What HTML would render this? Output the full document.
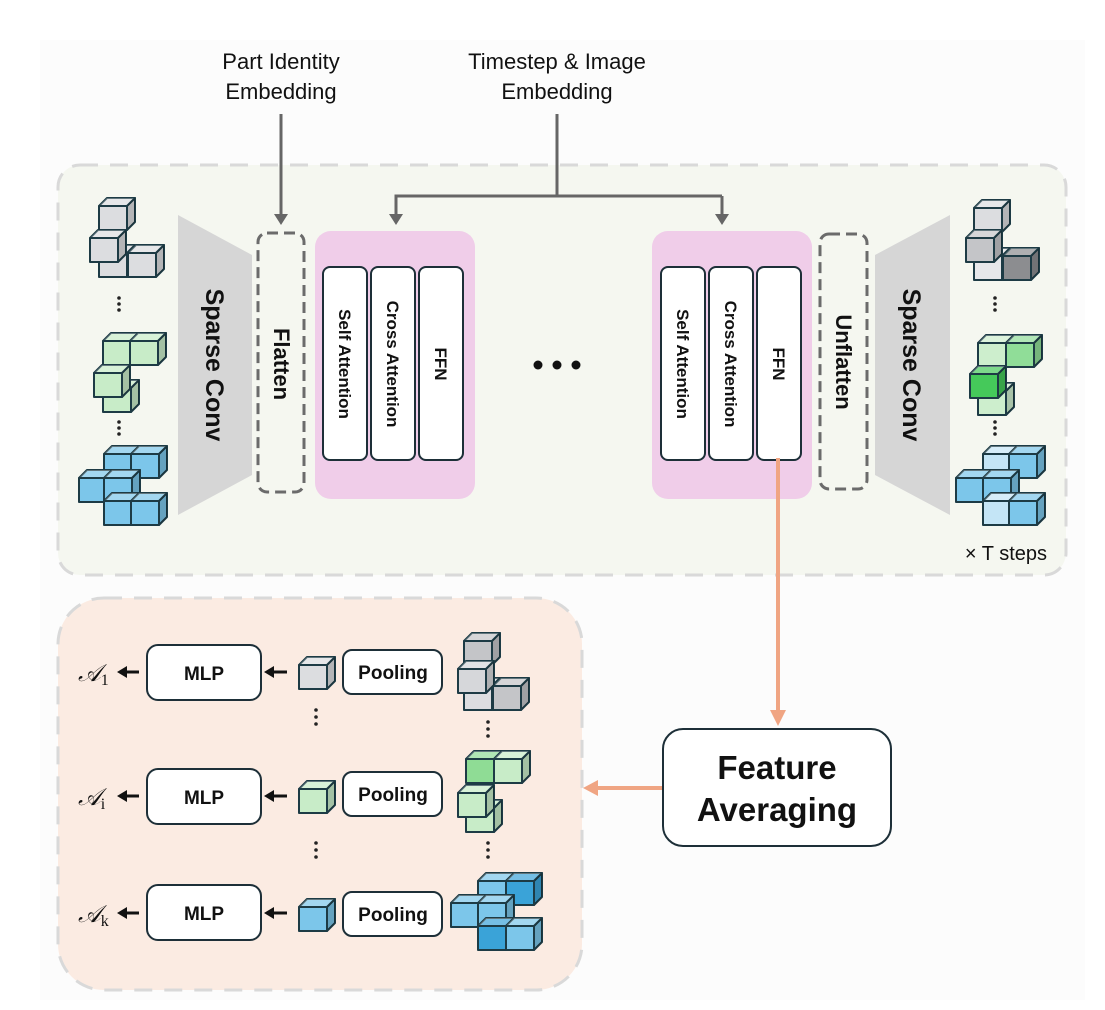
<!DOCTYPE html>
<html><head><meta charset="utf-8"><style>
html,body{margin:0;padding:0;background:#fff;}
svg{display:block;font-family:"Liberation Sans",Arial,sans-serif;}
</style></head><body>
<svg width="1105" height="1010" viewBox="0 0 1105 1010" xmlns="http://www.w3.org/2000/svg">
<defs>
<symbol id="c" viewBox="-1 -1 38 34" width="38" height="34" overflow="visible">
<g stroke="#1d3b45" stroke-width="2" stroke-linejoin="round">
<polygon points="0,8 8,0 36,0 28,8" fill="currentColor"/>
<polygon points="0,8 8,0 36,0 28,8" fill="#fff" fill-opacity="0.3" stroke="none"/>
<polygon points="28,8 36,0 36,24 28,32" fill="currentColor"/>
<polygon points="28,8 36,0 36,24 28,32" fill="#000" fill-opacity="0.18" stroke="none"/>
<rect x="0" y="8" width="28" height="24" fill="currentColor"/>
</g>
</symbol>
</defs>
<rect x="40" y="40" width="1045" height="960" fill="#fcfcfc"/>
<rect x="58" y="165" width="1008" height="410" rx="22" fill="#f5f7f0" stroke="#d9d9d9" stroke-width="3" stroke-dasharray="18,12"/>
<rect x="58" y="598" width="524" height="392" rx="46" fill="#fbebe2" stroke="#d9d9d9" stroke-width="3" stroke-dasharray="18,12"/>

<g font-size="22" fill="#111" text-anchor="middle">
<text x="281" y="69">Part Identity</text><text x="281" y="99">Embedding</text>
<text x="557" y="69">Timestep &amp; Image</text><text x="557" y="99">Embedding</text>
</g>
<g stroke="#666" stroke-width="3" fill="none">
<line x1="281" y1="114" x2="281" y2="216"/>
<polyline points="557,114 557,196 396,196 396,216"/>
<line x1="557" y1="196" x2="722" y2="196"/>
<line x1="722" y1="196" x2="722" y2="216"/>
</g>
<g fill="#666">
<polygon points="274,214 288,214 281,225"/>
<polygon points="389,214 403,214 396,225"/>
<polygon points="715,214 729,214 722,225"/>
</g>

<polygon points="178,215 252,255 252,475 178,515" fill="#d6d6d6"/>
<text transform="translate(206,365) rotate(90)" font-size="25" font-weight="bold" text-anchor="middle" fill="#111">Sparse Conv</text>
<rect x="258" y="233" width="46" height="259" rx="9" fill="none" stroke="#6b6b6b" stroke-width="3" stroke-dasharray="11,6"/>
<text transform="translate(274,364) rotate(90)" font-size="22" font-weight="bold" text-anchor="middle" fill="#111">Flatten</text>

<rect x="315" y="231" width="160" height="268" rx="16" fill="#f0cde9"/>
<rect x="652" y="231" width="160" height="268" rx="16" fill="#f0cde9"/>
<g fill="#fff" stroke="#1d2f38" stroke-width="2">
<rect x="323" y="267" width="44" height="193" rx="7"/>
<rect x="371" y="267" width="44" height="193" rx="7"/>
<rect x="419" y="267" width="44" height="193" rx="7"/>
<rect x="661" y="267" width="44" height="193" rx="7"/>
<rect x="709" y="267" width="44" height="193" rx="7"/>
<rect x="757" y="267" width="44" height="193" rx="7"/>
</g>
<g font-size="17" font-weight="bold" text-anchor="middle" fill="#111">
<text transform="translate(339,364) rotate(90)">Self Attention</text>
<text transform="translate(387,364) rotate(90)">Cross Attention</text>
<text transform="translate(435,364) rotate(90)">FFN</text>
<text transform="translate(677,364) rotate(90)">Self Attention</text>
<text transform="translate(725,364) rotate(90)">Cross Attention</text>
<text transform="translate(773,364) rotate(90)">FFN</text>
</g>
<g fill="#111"><circle cx="538" cy="365" r="4.5"/><circle cx="557" cy="365" r="4.5"/><circle cx="576" cy="365" r="4.5"/></g>

<rect x="820" y="234" width="47" height="255" rx="9" fill="none" stroke="#6b6b6b" stroke-width="3" stroke-dasharray="11,6"/>
<text transform="translate(836,362) rotate(90)" font-size="22" font-weight="bold" text-anchor="middle" fill="#111">Unflatten</text>
<polygon points="875,255 950,215 950,515 875,475" fill="#d6d6d6"/>
<text transform="translate(903,365) rotate(90)" font-size="25" font-weight="bold" text-anchor="middle" fill="#111">Sparse Conv</text>
<text x="1047" y="560" font-size="20" text-anchor="end" fill="#111">× T steps</text>

<g color="#dcdde0">
<use href="#c" x="98" y="197"/><use href="#c" x="98" y="244"/><use href="#c" x="127" y="244"/><use href="#c" x="89" y="229"/>
</g>
<g fill="#222"><circle cx="119" cy="298" r="1.8"/><circle cx="119" cy="304" r="1.8"/><circle cx="119" cy="310" r="1.8"/></g>
<g color="#c8ecc8">
<use href="#c" x="102" y="332"/><use href="#c" x="129" y="332"/><use href="#c" x="102" y="379"/><use href="#c" x="93" y="364"/>
</g>
<g fill="#222"><circle cx="119" cy="422" r="1.8"/><circle cx="119" cy="428" r="1.8"/><circle cx="119" cy="434" r="1.8"/></g>
<g color="#7cc6ea">
<use href="#c" x="103" y="445"/><use href="#c" x="130" y="445"/><use href="#c" x="78" y="469"/><use href="#c" x="103" y="469"/><use href="#c" x="103" y="492"/><use href="#c" x="130" y="492"/>
</g>

<use href="#c" x="973" y="199" color="#dcdde0"/>
<use href="#c" x="973" y="247" color="#e6e7ea"/>
<use href="#c" x="1002" y="247" color="#8c8d90"/>
<use href="#c" x="965" y="229" color="#c4c5c8"/>
<g fill="#222"><circle cx="995" cy="298" r="1.8"/><circle cx="995" cy="304" r="1.8"/><circle cx="995" cy="310" r="1.8"/></g>
<use href="#c" x="977" y="334" color="#cdeecd"/>
<use href="#c" x="1005" y="334" color="#90dd98"/>
<use href="#c" x="977" y="382" color="#cdeecd"/>
<use href="#c" x="969" y="365" color="#45c95a"/>
<g fill="#222"><circle cx="995" cy="422" r="1.8"/><circle cx="995" cy="428" r="1.8"/><circle cx="995" cy="434" r="1.8"/></g>
<use href="#c" x="982" y="445" color="#c4e5f6"/>
<use href="#c" x="1008" y="445" color="#7cc6ea"/>
<use href="#c" x="955" y="469" color="#7cc6ea"/>
<use href="#c" x="982" y="469" color="#7cc6ea"/>
<use href="#c" x="982" y="492" color="#c4e5f6"/>
<use href="#c" x="1008" y="492" color="#7cc6ea"/>

<line x1="778" y1="458" x2="778" y2="712" stroke="#f0a583" stroke-width="4"/>
<polygon points="770,710 786,710 778,726" fill="#f0a583"/>
<line x1="663" y1="788" x2="596" y2="788" stroke="#f0a583" stroke-width="4"/>
<polygon points="598,780 598,796 583,788" fill="#f0a583"/>
<rect x="663" y="729" width="228" height="117" rx="20" fill="#fff" stroke="#1d2f38" stroke-width="2"/>
<g font-size="33" font-weight="bold" text-anchor="middle" fill="#111">
<text x="777" y="779">Feature</text><text x="777" y="821">Averaging</text>
</g>

<g fill="#fff" stroke="#1d2f38" stroke-width="2">
<rect x="147" y="645" width="114" height="55" rx="11"/>
<rect x="147" y="769" width="114" height="55" rx="11"/>
<rect x="147" y="885" width="114" height="55" rx="11"/>
<rect x="343" y="650" width="99" height="44" rx="9"/>
<rect x="343" y="772" width="99" height="44" rx="9"/>
<rect x="343" y="892" width="99" height="44" rx="9"/>
</g>
<g font-size="19" font-weight="bold" text-anchor="middle" fill="#111">
<text x="204" y="680">MLP</text><text x="204" y="804">MLP</text><text x="204" y="920">MLP</text>
<text x="393" y="679">Pooling</text><text x="393" y="801">Pooling</text><text x="393" y="921">Pooling</text>
</g>
<g stroke="#111" stroke-width="3">
<line x1="287" y1="672" x2="272" y2="672"/><line x1="287" y1="796" x2="272" y2="796"/><line x1="287" y1="913" x2="272" y2="913"/>
<line x1="139" y1="672" x2="124" y2="672"/><line x1="139" y1="796" x2="124" y2="796"/><line x1="139" y1="913" x2="124" y2="913"/>
</g>
<g fill="#111">
<polygon points="264,672 274,666 274,678"/><polygon points="264,796 274,790 274,802"/><polygon points="264,913 274,907 274,919"/>
<polygon points="117,672 127,666 127,678"/><polygon points="117,796 127,790 127,802"/><polygon points="117,913 127,907 127,919"/>
</g>
<g font-family="'Liberation Serif',serif" font-style="italic" font-size="24" fill="#111">
<text x="78" y="681">𝒜<tspan font-style="normal" font-size="16" dy="4">1</tspan></text>
<text x="78" y="805">𝒜<tspan font-style="normal" font-size="16" dy="4">i</tspan></text>
<text x="78" y="922">𝒜<tspan font-style="normal" font-size="16" dy="4">k</tspan></text>
</g>
<use href="#c" x="298" y="656" color="#dcdde0"/>
<use href="#c" x="298" y="780" color="#c8ecc8"/>
<use href="#c" x="298" y="898" color="#7cc6ea"/>
<g fill="#222">
<circle cx="316" cy="710" r="1.8"/><circle cx="316" cy="717" r="1.8"/><circle cx="316" cy="724" r="1.8"/>
<circle cx="316" cy="843" r="1.8"/><circle cx="316" cy="850" r="1.8"/><circle cx="316" cy="857" r="1.8"/>
<circle cx="488" cy="722" r="1.8"/><circle cx="488" cy="729" r="1.8"/><circle cx="488" cy="736" r="1.8"/>
<circle cx="488" cy="843" r="1.8"/><circle cx="488" cy="850" r="1.8"/><circle cx="488" cy="857" r="1.8"/>
</g>
<use href="#c" x="463" y="632" color="#c4c5c8"/>
<use href="#c" x="463" y="677" color="#dcdde0"/>
<use href="#c" x="492" y="677" color="#c4c5c8"/>
<use href="#c" x="457" y="660" color="#d6d7da"/>
<use href="#c" x="465" y="750" color="#8fdc95"/>
<use href="#c" x="493" y="750" color="#c8ecc8"/>
<use href="#c" x="465" y="799" color="#c8ecc8"/>
<use href="#c" x="457" y="784" color="#c8ecc8"/>
<use href="#c" x="477" y="872" color="#7cc6ea"/>
<use href="#c" x="505" y="872" color="#3aa3d8"/>
<use href="#c" x="450" y="894" color="#7cc6ea"/>
<use href="#c" x="477" y="894" color="#7cc6ea"/>
<use href="#c" x="477" y="917" color="#3aa3d8"/>
<use href="#c" x="505" y="917" color="#7cc6ea"/>
</svg>
</body></html>
